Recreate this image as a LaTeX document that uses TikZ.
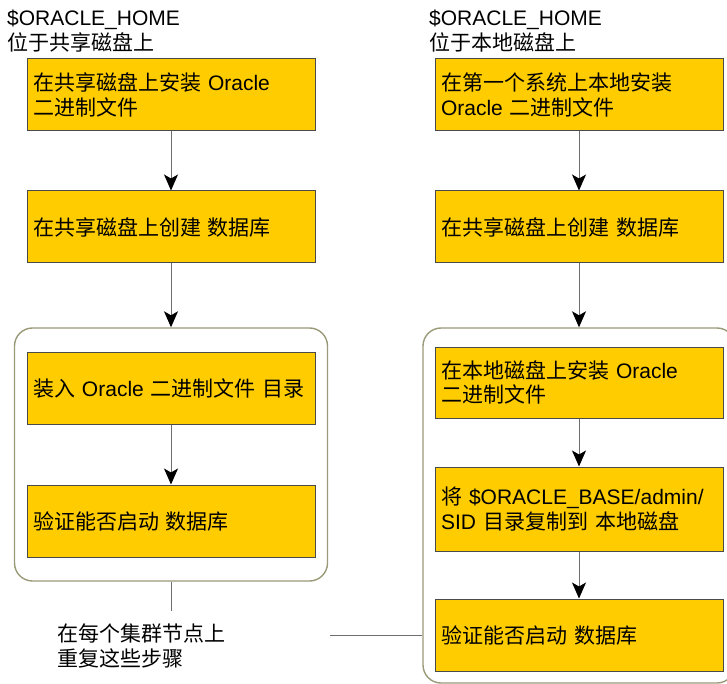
\documentclass[tikz,border=0pt]{standalone}
\usepackage{fontspec}
\setmainfont{Liberation Sans}
\newfontfamily\cjk{Noto Sans CJK SC}
\newcommand{\zh}[1]{{\cjk #1}}
\usetikzlibrary{positioning,arrows.meta}
\definecolor{boxfill}{HTML}{FFCC00}
\definecolor{boxline}{HTML}{4A4A4A}
\definecolor{grpline}{HTML}{9A9A78}
\definecolor{linkgray}{HTML}{6E6E6E}

\begin{document}
\begin{tikzpicture}[x=1pt,y=1pt,node distance=132pt,
        font=\fontsize{21}{24.5}\selectfont,
        stepbox/.style={draw=boxline,fill=boxfill,line width=1pt,minimum width=288pt,minimum height=72pt,
                text width=276pt,inner xsep=6pt,inner ysep=0pt,align=left},
        group/.style={draw=grpline,line width=1.4pt,rounded corners=18pt,inner sep=0pt},
        caption/.style={inner sep=0pt,anchor=west,align=left},
        flow/.style={draw=linkgray,line width=1pt,-{Stealth[length=16pt,width=14pt,inset=4pt,color=black]}},
        link/.style={draw=linkgray,line width=1pt}]
        \useasboundingbox (0,0) rectangle (727,-684);

        \node[caption] (lhome) at (7,-31) {\$ORACLE\_HOME\\\zh{位于共享磁盘上}};
        \node[caption] (rhome) at (429,-31) {\$ORACLE\_HOME\\\zh{位于本地磁盘上}};

        \node[group,minimum width=313pt,minimum height=253pt] (lg) at (171,-454.5) {};
        \node[group,minimum width=312pt,minimum height=355pt] (rg) at (579,-505.5) {};

        \node[stepbox] (l1) at (171,-95) {\zh{在共享磁盘上安装} Oracle\\\zh{二进制文件}};
        \node[stepbox] (l2) [below of=l1] {\zh{在共享磁盘上创建 数据库}};
        \node[stepbox,node distance=161.5pt] (l3) [below of=l2] {\zh{装入} Oracle \zh{二进制文件 目录}};
        \node[stepbox,node distance=132.5pt] (l4) [below of=l3] {\zh{验证能否启动 数据库}};

        \node[stepbox] (r1) at (579,-95) {\zh{在第一个系统上本地安装}\\Oracle \zh{二进制文件}};
        \node[stepbox] (r2) [below of=r1] {\zh{在共享磁盘上创建 数据库}};
        \node[stepbox,node distance=155.5pt,minimum height=71pt] (r3) [below of=r2] {\zh{在本地磁盘上安装} Oracle\\\zh{二进制文件}};
        \node[stepbox,node distance=126.5pt,minimum height=84pt] (r4) [below of=r3] {\zh{将} \$ORACLE\_BASE/admin/\\SID \zh{目录复制到 本地磁盘}};
        \node[stepbox,node distance=126pt] (r5) [below of=r4] {\zh{验证能否启动 数据库}};

        \node[caption] (repeat) at (57,-646) {\zh{在每个集群节点上}\\\zh{重复这些步骤}};
        \coordinate (lgdrop) at (171,-611);
        \coordinate (repjoin) at (330,-635);

        \path[flow] (l1) edge (l2)
                    (l2) edge (lg)
                    (l3) edge (l4)
                    (r1) edge (r2)
                    (r2) edge (rg)
                    (r3) edge (r4)
                    (r4) edge (r5);
        \draw[link] (lg) -- (lgdrop);
        \draw[link] (repjoin) -- (repjoin -| rg.west);
    \end{tikzpicture}
\end{document}
